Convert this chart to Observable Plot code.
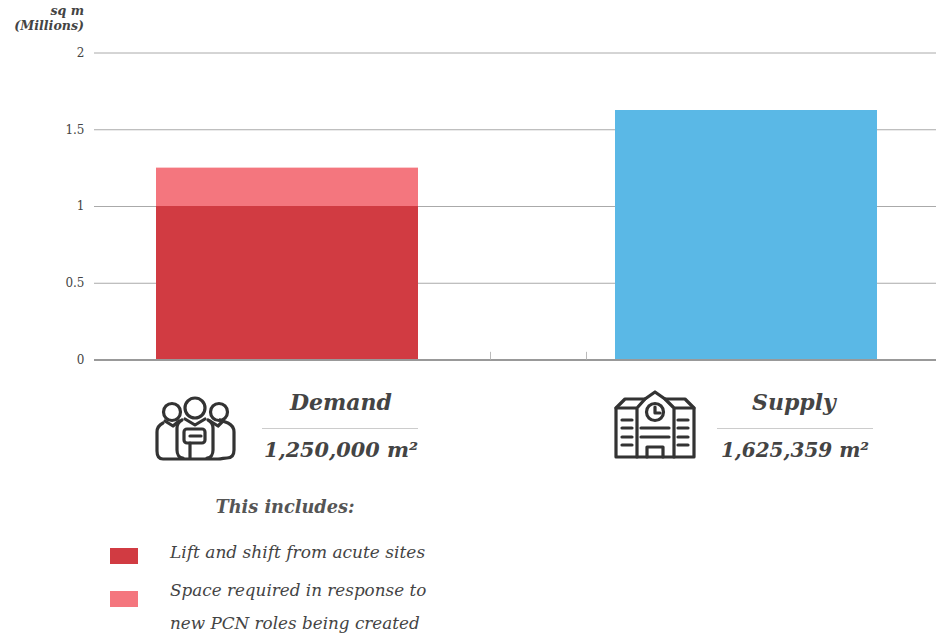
<!DOCTYPE html>
<html><head><meta charset="utf-8">
<script src="https://cdn.jsdelivr.net/npm/d3@7"></script>
<script src="https://cdn.jsdelivr.net/npm/@observablehq/plot@0.6"></script>
<style>
html,body{margin:0;padding:0;background:#fff;width:936px;height:633px;overflow:hidden}
#wrap{position:relative;width:936px;height:633px;overflow:hidden;font-family:"DejaVu Serif",serif;color:#444}
#chart{position:absolute;left:0;top:0}
.t{position:absolute;white-space:nowrap;font-style:italic}
.b{font-weight:bold}
.c{transform:translateX(-50%)}
.hr{position:absolute;height:1px;background:#ccc}
.sw{position:absolute;width:28px;height:16px}
svg.ic{position:absolute;left:0;top:0;fill:none;stroke:#333;stroke-width:3.2;stroke-linecap:round;stroke-linejoin:round}
</style></head><body>
<div id="wrap"><div id="chart"></div></div>
<script>
const categories = ["Demand", "Supply"];
const yTicks = [0, 0.5, 1, 1.5, 2];
const yTickLabels = ["0", "0.5", "1", "1.5", "2"];
const liftAndShift = [1.0, 0];
const pcnRoles = [0.25, 0];
const supply = [0, 1.625359];
const totals = ["1,250,000 m²", "1,625,359 m²"];
const legendLabels = ["Lift and shift from acute sites", "Space required in response to", "new PCN roles being created"];
const colors = {lift: "#D13B42", pcn: "#F4767E", supply: "#5AB8E6"};

const rows = [];
categories.forEach((c, i) => {
  if (liftAndShift[i]) rows.push({c, v: liftAndShift[i], k: "lift"});
  if (pcnRoles[i]) rows.push({c, v: pcnRoles[i], k: "pcn"});
  if (supply[i]) rows.push({c, v: supply[i], k: "supply"});
});

const plot = Plot.plot({
  width: 936, height: 375,
  marginLeft: 94, marginRight: 0, marginTop: 0, marginBottom: 0,
  style: {background: "transparent", fontFamily: '"DejaVu Serif",serif', fontSize: "12px", color: "#444"},
  x: {type: "band", domain: categories, range: [156, 878], paddingInner: 197/460, paddingOuter: 0, axis: null},
  y: {domain: [0, 2], range: [359.5, 52.5], ticks: yTicks, label: null, tickSize: 0, tickPadding: 10,
      tickFormat: (d) => yTickLabels[yTicks.indexOf(d)]},
  color: {domain: Object.keys(colors), range: Object.values(colors)},
  marks: [
    Plot.ruleY(yTicks.filter(d => d), {stroke: "#aaa", strokeWidth: 1}),
    Plot.barY(rows, Plot.stackY({x: "c", y: "v", fill: "k", order: ["lift","pcn","supply"]})),
    Plot.ruleY([0], {stroke: "#999", strokeWidth: 2}),
    Plot.ruleX([categories[0]], {x: d => d, y1: 0, y2: 0.05, stroke: "#bbb", dx: 203}),
    Plot.ruleX([categories[1]], {x: d => d, y1: 0, y2: 0.05, stroke: "#bbb", dx: -160})
  ]
});
document.getElementById("chart").appendChild(plot);

const wrap = document.getElementById("wrap");
function txt(s, x, y, size, cls, style) {
  const d = document.createElement("div");
  d.className = "t " + cls; d.textContent = s;
  d.style.cssText = `left:${x}px;top:${y}px;font-size:${size}px;line-height:1;` + (style || "");
  wrap.appendChild(d); return d;
}
txt("sq m", 0, 5, 12.6, "b", "width:84px;text-align:right");
txt("(Millions)", 0, 20, 12.6, "b", "width:84px;text-align:right");
txt(categories[0], 341, 391, 22, "b c");
txt(totals[0], 341, 440, 20.8, "b c");
txt(categories[1], 794, 391, 22, "b c");
txt(totals[1], 795, 440, 20, "b c");
txt("This includes:", 285, 498, 17.7, "b c", "color:#555");
txt(legendLabels[0], 170, 544, 17, "");
txt(legendLabels[1], 170, 582, 16.8, "");
txt(legendLabels[2], 170, 615, 16.8, "");
for (const [x, w] of [[262, 156], [717, 156]]) {
  const h = document.createElement("div"); h.className = "hr";
  h.style.cssText = `left:${x}px;top:428px;width:${w}px`; wrap.appendChild(h);
}
for (const [y, c] of [[548, colors.lift], [591, colors.pcn]]) {
  const s = document.createElement("div"); s.className = "sw";
  s.style.cssText = `left:110px;top:${y}px;background:${c}`; wrap.appendChild(s);
}
const icons = `<svg class="ic" width="936" height="633">
<circle cx="172" cy="412" r="8.5"/><circle cx="195" cy="408" r="10"/><circle cx="219" cy="412" r="8.5"/>
<path d="M163 423c-4 2-6 5-6 9v19c0 5 2 8 6 8h55c4 0 6-1 9-1 5 0 7-3 7-8v-18c0-4-2-7-6-9l-8-3"/>
<path d="M165 421l8 5 6-5"/><path d="M210 421l8 5 5-5"/>
<path d="M182 420c-4 2-5 5-5 8v22c0 4 2 8 6 8"/><path d="M208 420c4 2 5 5 5 8v22c0 4-2 8-6 8"/>
<path d="M185 419l10 6 10-6"/>
<rect x="184" y="429" width="21" height="14" rx="3"/><path d="M190 436h11"/><path d="M190 443v15"/>
<path d="M616 408L625 399H645L655 392L665 399H685L694 408V457H616Z"/>
<path d="M616 408H637V457M694 408H674V457M637 408L645 399M674 408L665 399"/>
<circle cx="655" cy="412" r="8.5" fill="#fff"/><path d="M655 407v6h5"/>
<path d="M641 428h28M641 437h28M647 457v-10h16v10"/>
<path d="M622 420h10M622 428h10M622 437h10M622 445h10M678 420h10M678 428h10M678 437h10M678 445h10"/>
</svg>`;
wrap.insertAdjacentHTML("beforeend", icons);
</script>
</body></html>
